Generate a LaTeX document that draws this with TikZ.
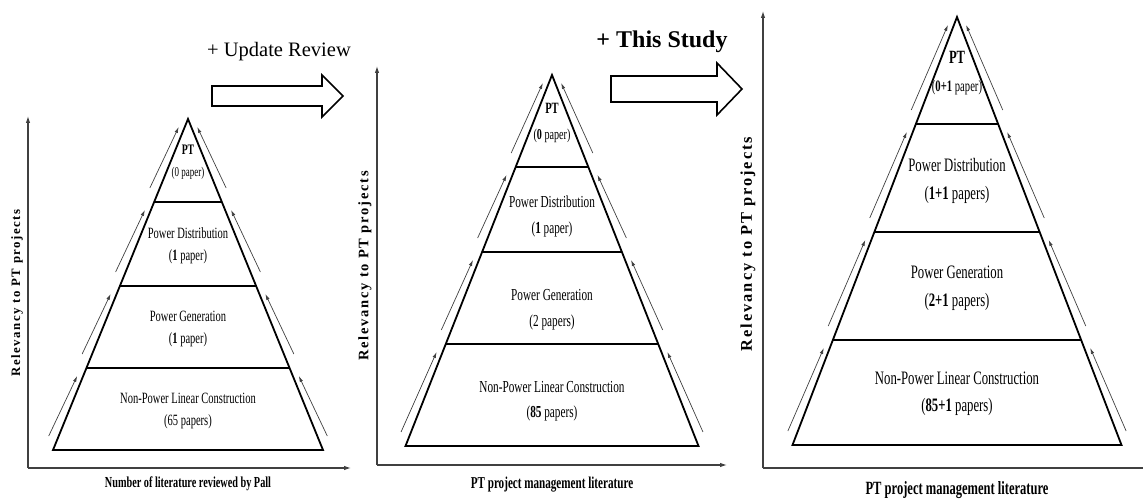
\documentclass[tikz,border=0pt]{standalone}
\usepackage{fontspec}
\setmainfont{Liberation Serif}
\newfontfamily\cond[FakeStretch=0.67]{Liberation Serif}
\newfontfamily\spacedf[LetterSpace=12]{Liberation Serif}
\usetikzlibrary{arrows.meta}
\tikzset{
  tri/.style={line width=1.8pt, line join=miter},
  divline/.style={line width=1.8pt},
  axisline/.style={line width=1.1pt, draw=black!75, -{Latex[length=7pt,width=4.5pt]}},
  sidearrow/.style={line width=0.7pt, draw=black!75, -{Latex[length=6pt,width=3.5pt]}},
  blockarrow/.style={line width=1.6pt, fill=white, line join=miter},
  tt/.style={inner sep=0pt, anchor=center},
  ylab/.style={inner sep=0pt, rotate=90, anchor=center},
}
\newcommand\pyramid[8]{%
  \coordinate (#1A) at (#2,#3);
  \coordinate (#1L) at (#2-#4,#5);
  \coordinate (#1R) at (#2+#4,#5);
  \draw[tri] (#1L) -- (#1A) -- (#1R) -- cycle;
  \pgfmathsetmacro\slope{#4/(#5-#3)}
  \foreach \d [count=\i] in {#6,#7,#8} {
    \pgfmathsetmacro\hw{\slope*(\d-#3)}
    \coordinate (#1dl\i) at (#2-\hw,\d);
    \coordinate (#1dr\i) at (#2+\hw,\d);
    \draw[divline] (#1dl\i) -- (#1dr\i);
  }
  \foreach \yb/\yt [count=\j] in {#5/#8,#8/#7,#7/#6,#6/#3} {
    \pgfmathsetmacro\ys{\yb-14}
    \pgfmathsetmacro\ye{\yt+8}
    \pgfmathsetmacro\ws{\slope*(\ys-#3)+10}
    \pgfmathsetmacro\we{\slope*(\ye-#3)+6}
    \coordinate (#1sl\j) at (#2-\ws,\ys);
    \coordinate (#1el\j) at (#2-\we,\ye);
    \coordinate (#1sr\j) at (#2+\ws,\ys);
    \coordinate (#1er\j) at (#2+\we,\ye);
    \draw[sidearrow] (#1sl\j) -- (#1el\j);
    \draw[sidearrow] (#1sr\j) -- (#1er\j);
  }
}
\begin{document}
\begin{tikzpicture}[x=1pt,y=-1pt]
\useasboundingbox (0,0) rectangle (1143,500);

% ---------- Panel 1 ----------
\coordinate (o1) at (28,468);
\coordinate (y1) at (28,116);
\coordinate (x1) at (351,468);
\draw[axisline] (o1) -- (y1);
\draw[axisline] (o1) -- (x1);
\pyramid{p}{188}{119}{135}{450}{202}{286}{368}
\begin{scope}[every node/.style={tt, font=\cond\fontsize{15.7}{18}\selectfont}]
\node[font=\cond\bfseries\fontsize{14.5}{16}\selectfont] (p1a) at (188,150) {PT};
\node[font=\cond\fontsize{13.4}{15}\selectfont] (p1b) at (188,173) {(0 paper)};
\node (p2a) at (188,233) {Power Distribution};
\node (p2b) at (188,257) {(\textbf{1} paper)};
\node (p3a) at (188,316) {Power Generation};
\node (p3b) at (188,340) {(\textbf{1} paper)};
\node (p4a) at (188,398) {Non-Power Linear Construction};
\node (p4b) at (188,422) {(65 papers)};
\end{scope}
\node[ylab, font=\spacedf\bfseries\fontsize{12.8}{15}\selectfont] (yl1) at (17,293) {Relevancy to PT projects};
\node[tt, font=\cond\bfseries\fontsize{15.3}{17}\selectfont] (xl1) at (188,484) {Number of literature reviewed by Pall};

% ---------- Block arrow 1 ----------
\node[inner sep=0pt, anchor=base, font=\fontsize{20.5}{24}\selectfont] (t1) at (279,57) {+ Update Review};
\draw[blockarrow] (212,86) -- (322,86) -- (322,75) -- (343,96) -- (322,117) -- (322,106) -- (212,106) -- cycle;

% ---------- Panel 2 ----------
\coordinate (o2) at (377,465);
\coordinate (y2) at (377,66);
\coordinate (x2) at (727,465);
\draw[axisline] (o2) -- (y2);
\draw[axisline] (o2) -- (x2);
\pyramid{q}{552}{75}{146.5}{446}{167}{252}{344}
\begin{scope}[every node/.style={tt, font=\cond\fontsize{16.8}{19}\selectfont}]
\node[font=\cond\bfseries\fontsize{15.7}{18}\selectfont] (q1a) at (552,108) {PT};
\node[font=\cond\fontsize{15.1}{17}\selectfont] (q1b) at (552,136) {(\textbf{0} paper)};
\node (q2a) at (552,202) {Power Distribution};
\node (q2b) at (552,229) {(\textbf{1} paper)};
\node (q3a) at (552,295) {Power Generation};
\node (q3b) at (552,322) {(2 papers)};
\node (q4a) at (552,387) {Non-Power Linear Construction};
\node (q4b) at (552,413) {(\textbf{85} papers)};
\end{scope}
\node[ylab, font=\spacedf\bfseries\fontsize{14.5}{17}\selectfont] (yl2) at (365,266) {Relevancy to PT projects};
\node[tt, font=\cond\bfseries\fontsize{16.6}{19}\selectfont] (xl2) at (552,485) {PT project management literature};

% ---------- Block arrow 2 ----------
\node[inner sep=0pt, anchor=center, font=\bfseries\fontsize{24}{28}\selectfont] (t2) at (662,42) {+ This Study};
\draw[blockarrow] (611,76) -- (717,76) -- (717,63) -- (742,89) -- (717,115) -- (717,102) -- (611,102) -- cycle;

% ---------- Panel 3 ----------
\coordinate (o3) at (763,468);
\coordinate (y3) at (763,11);
\coordinate (x3) at (1143,468);
\draw[axisline] (o3) -- (y3);
\draw[line width=1.1pt, draw=black!75] (o3) -- (x3);
\pyramid{r}{957}{17}{164.5}{445}{124}{232}{340}
\begin{scope}[every node/.style={tt, font=\cond\fontsize{19}{22}\selectfont}]
\node[font=\cond\bfseries\fontsize{18.7}{21}\selectfont] (r1a) at (957,57) {PT};
\node[font=\cond\fontsize{15.9}{18}\selectfont] (r1b) at (957,88) {(\textbf{0+1} paper)};
\node (r2a) at (957,165) {Power Distribution};
\node (r2b) at (957,195) {(\textbf{1+1} papers)};
\node (r3a) at (957,272) {Power Generation};
\node (r3b) at (957,302) {(\textbf{2+1} papers)};
\node (r4a) at (957,378) {Non-Power Linear Construction};
\node (r4b) at (957,407) {(\textbf{85+1} papers)};
\end{scope}
\node[ylab, font=\spacedf\bfseries\fontsize{16.4}{19}\selectfont] (yl3) at (748,244) {Relevancy to PT projects};
\node[tt, font=\cond\bfseries\fontsize{18.7}{21}\selectfont] (xl3) at (957,490) {PT project management literature};
\end{tikzpicture}
\end{document}
